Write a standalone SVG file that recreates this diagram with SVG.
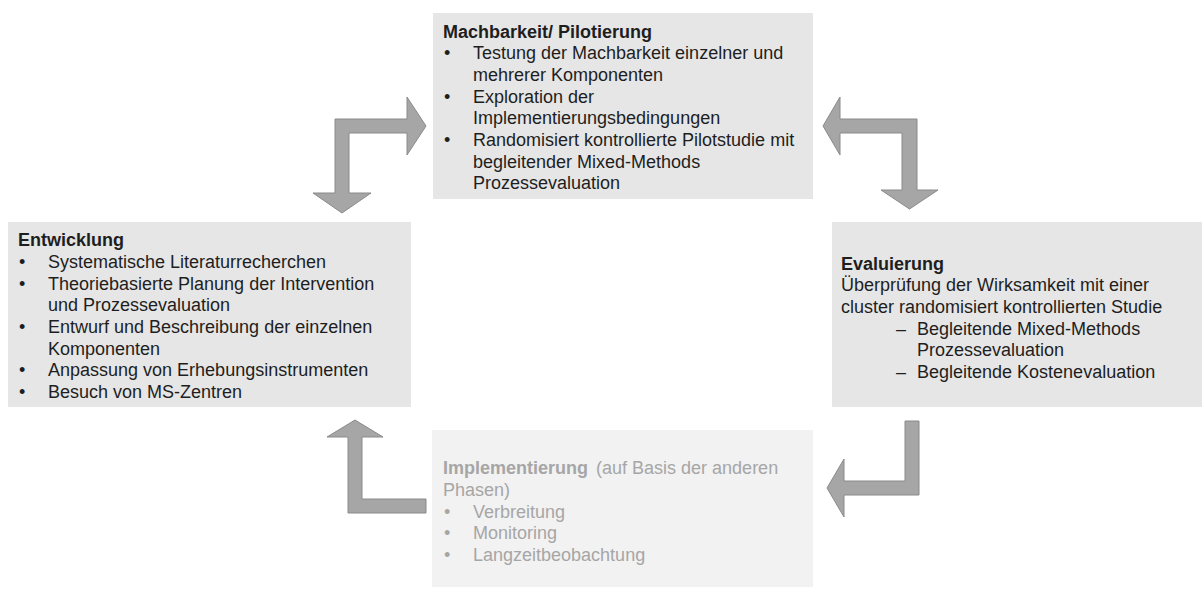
<svg xmlns="http://www.w3.org/2000/svg" width="1202" height="589" viewBox="0 0 1202 589">
  <style>
    .box { fill: #e6e6e6; }
    .box-light { fill: #f2f2f2; }
    .txt { font-family: "Liberation Sans", Arial, sans-serif; font-size: 18px; fill: #1e1e1e; }
    .txt-light { font-family: "Liberation Sans", Arial, sans-serif; font-size: 18px; fill: #a6a6a6; }
    .b { font-weight: bold; }
    .arrow { fill: #a6a6a6; stroke: #8a8a8a; stroke-width: 1; stroke-linejoin: miter; }
  </style>

  <rect width="1202" height="589" fill="#ffffff"/>

  <!-- Phase: feasibility / piloting -->
  <g id="machbarkeit">
    <rect class="box" x="433" y="13" width="380" height="186"/>
    <text class="txt">
      <tspan class="b" x="443" y="37.5">Machbarkeit/ Pilotierung</tspan>
      <tspan x="444" y="59.2">•</tspan><tspan x="473" y="59.2">Testung der Machbarkeit einzelner und</tspan>
      <tspan x="473" y="80.8">mehrerer Komponenten</tspan>
      <tspan x="444" y="102.5">•</tspan><tspan x="473" y="102.5">Exploration der</tspan>
      <tspan x="473" y="124.2">Implementierungsbedingungen</tspan>
      <tspan x="444" y="145.8">•</tspan><tspan x="473" y="145.8">Randomisiert kontrollierte Pilotstudie mit</tspan>
      <tspan x="473" y="167.5">begleitender Mixed-Methods</tspan>
      <tspan x="473" y="189.2">Prozessevaluation</tspan>
    </text>
  </g>

  <!-- Phase: development -->
  <g id="entwicklung">
    <rect class="box" x="8" y="222" width="403" height="185"/>
    <text class="txt">
      <tspan class="b" x="18" y="246.4">Entwicklung</tspan>
      <tspan x="19" y="268.1">•</tspan><tspan x="48" y="268.1">Systematische Literaturrecherchen</tspan>
      <tspan x="19" y="289.7">•</tspan><tspan x="48" y="289.7">Theoriebasierte  Planung der Intervention</tspan>
      <tspan x="48" y="311.4">und Prozessevaluation</tspan>
      <tspan x="19" y="333.1">•</tspan><tspan x="48" y="333.1">Entwurf und Beschreibung der einzelnen</tspan>
      <tspan x="48" y="354.7">Komponenten</tspan>
      <tspan x="19" y="376.4">•</tspan><tspan x="48" y="376.4">Anpassung von Erhebungsinstrumenten</tspan>
      <tspan x="19" y="398.1">•</tspan><tspan x="48" y="398.1">Besuch von MS-Zentren</tspan>
    </text>
  </g>

  <!-- Phase: evaluation -->
  <g id="evaluierung">
    <rect class="box" x="832" y="222" width="370" height="185"/>
    <text class="txt">
      <tspan class="b" x="841" y="269.5">Evaluierung</tspan>
      <tspan x="841" y="291.2">Überprüfung der Wirksamkeit mit einer</tspan>
      <tspan x="841" y="312.8">cluster randomisiert kontrollierten Studie</tspan>
      <tspan x="896" y="334.5">–</tspan><tspan x="917" y="334.5">Begleitende Mixed-Methods</tspan>
      <tspan x="917" y="356.2">Prozessevaluation</tspan>
      <tspan x="896" y="377.8">–</tspan><tspan x="917" y="377.8">Begleitende Kostenevaluation</tspan>
    </text>
  </g>

  <!-- Phase: implementation -->
  <g id="implementierung">
    <rect class="box-light" x="432" y="430" width="381" height="157"/>
    <text class="txt-light">
      <tspan class="b" x="443" y="474.4">Implementierung</tspan><tspan dx="8">(auf Basis der anderen</tspan>
      <tspan x="443" y="496.1">Phasen)</tspan>
      <tspan x="444" y="517.7">•</tspan><tspan x="473" y="517.7">Verbreitung</tspan>
      <tspan x="444" y="539.4">•</tspan><tspan x="473" y="539.4">Monitoring</tspan>
      <tspan x="444" y="561.1">•</tspan><tspan x="473" y="561.1">Langzeitbeobachtung</tspan>
    </text>
  </g>

  <!-- Bent two-way and one-way arrows between phases -->
  <g id="connectors">
    <polygon class="arrow" points="342,213 371,193 349,193 349,133 407,133 407,155 426,126 407,97 407,119 335,119 335,193 313,193"/>
    <polygon class="arrow" points="823,126 840,97 840,119 917,119 917,190 938,190 909.5,209 881,190 902,190 902,133 840,133 840,155"/>
    <polygon class="arrow" points="355,420 383,437 362,437 362,499 426,499 426,513 348,513 348,437 327,437"/>
    <polygon class="arrow" points="905,421 919,421 919,495 844,495 844,517 827,488 844,459 844,481 905,481"/>
  </g>
</svg>
